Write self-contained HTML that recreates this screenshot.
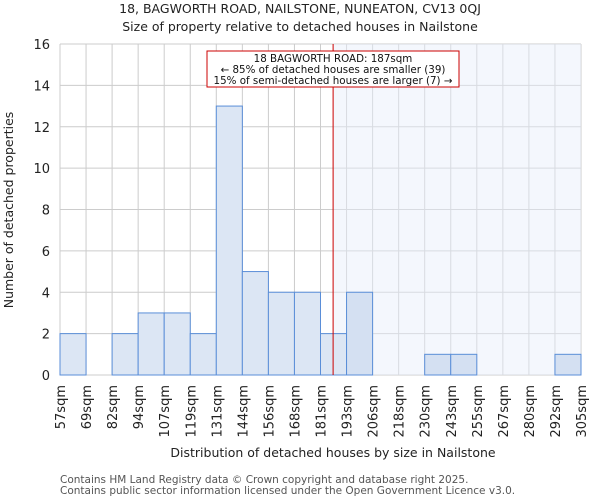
<!DOCTYPE html>
<html><head><meta charset="utf-8"><style>
body{margin:0;background:#fff;font-family:"DejaVu Sans","Liberation Sans",sans-serif;}
</style></head><body>
<svg width="600" height="500" font-family="DejaVu Sans, Liberation Sans, sans-serif">
<g id="g"></g>
</svg>
<script>
const edges=["57sqm","69sqm","82sqm","94sqm","107sqm","119sqm","131sqm","144sqm","156sqm","168sqm","181sqm","193sqm","206sqm","218sqm","230sqm","243sqm","255sqm","267sqm","280sqm","292sqm","305sqm"];
const counts=[2,0,2,3,3,2,13,5,4,4,2,4,0,0,1,1,0,0,0,1];
const yTicks=[0,2,4,6,8,10,12,14,16];
const subjectSize=187;
const minSize=57, maxSize=305;
const L=60,R=581,T=44,B=375,yMax=16;
const n=counts.length, bw=(R-L)/n;
const X=i=>L+i*bw, Y=v=>B-(B-T)*v/yMax, XS=s=>L+(s-minSize)/(maxSize-minSize)*(R-L);
const NS="http://www.w3.org/2000/svg",g=document.getElementById('g');
function mk(t,a,txt){const e=document.createElementNS(NS,t);for(const k in a)e.setAttribute(k,a[k]);if(txt!==undefined)e.textContent=txt;g.appendChild(e);return e;}
let e;
yTicks.forEach(v=>{e=mk('line',{x1:L,x2:R,y1:Y(v),y2:Y(v),stroke:'#cccccc','stroke-width':1});});
edges.forEach((s,i)=>{e=mk('line',{x1:X(i),x2:X(i),y1:T,y2:B,stroke:'#cccccc','stroke-width':1});});
const sx=XS(subjectSize);
e=mk('rect',{x:sx,y:T,width:R-sx,height:B-T,fill:'#e6edfa','fill-opacity':0.45});

counts.forEach((c,i)=>{if(c<=0)return;e=mk('rect',{x:X(i),y:Y(c),width:bw,height:B-Y(c),fill:X(i)>=sx-1?'#d4e0f2':'#dce6f4',stroke:'#5a8ed8','stroke-width':1});});
e=mk('line',{x1:sx,x2:sx,y1:T,y2:B,stroke:'#cc0000','stroke-width':1});

yTicks.forEach(v=>{e=mk('text',{x:L-10,y:Y(v)+5,'text-anchor':'end','font-size':13,fill:'#222'},v);});
edges.forEach((s,i)=>{e=mk('text',{transform:`translate(${X(i)+5},${B+10}) rotate(-90)`,'text-anchor':'end','font-size':13,fill:'#222'},s);});
e=mk('rect',{x:207,y:51,width:252,height:36,fill:'#fff',stroke:'#cc0000','stroke-width':1});

["18 BAGWORTH ROAD: 187sqm","← 85% of detached houses are smaller (39)","15% of semi-detached houses are larger (7) →"].forEach((t,i)=>{e=mk('text',{x:333,y:62+i*11,'text-anchor':'middle','font-size':10.3,fill:'#111'},t);});
e=mk('text',{x:300,y:13,'text-anchor':'middle','font-size':12.5,fill:'#222'},"18, BAGWORTH ROAD, NAILSTONE, NUNEATON, CV13 0QJ");
e=mk('text',{x:300,y:31,'text-anchor':'middle','font-size':12.5,fill:'#222'},"Size of property relative to detached houses in Nailstone");
e=mk('text',{x:333,y:457,'text-anchor':'middle','font-size':12.5,fill:'#222'},"Distribution of detached houses by size in Nailstone");
e=mk('text',{transform:'translate(13,210) rotate(-90)','text-anchor':'middle','font-size':12.5,fill:'#222'},"Number of detached properties");
e=mk('text',{x:60,y:483,'font-size':10.5,fill:'#555'},"Contains HM Land Registry data © Crown copyright and database right 2025.");
e=mk('text',{x:60,y:494,'font-size':10.5,fill:'#555'},"Contains public sector information licensed under the Open Government Licence v3.0.");
</script>
</body></html>
